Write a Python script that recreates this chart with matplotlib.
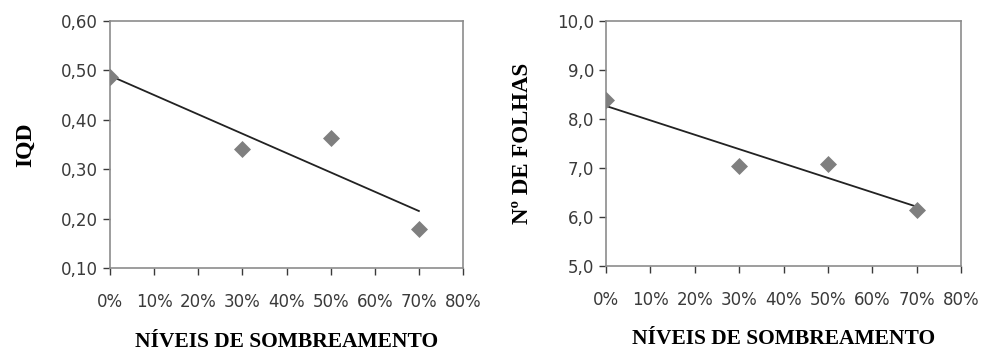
import numpy as np
import matplotlib
matplotlib.use("Agg")
import matplotlib.pyplot as plt
from matplotlib.ticker import FuncFormatter

# shading levels (%)
niveis = [0, 30, 50, 70]
iqd = [0.487, 0.341, 0.363, 0.179]
folhas = [8.38, 7.04, 7.09, 6.15]

x_ticks = [0, 10, 20, 30, 40, 50, 60, 70, 80]

fig = plt.figure(figsize=(9.81, 3.51), dpi=100)
ax1 = fig.add_axes([110 / 981, 1 - 268 / 351, 353 / 981, 247 / 351])
ax2 = fig.add_axes([606 / 981, 1 - 266 / 351, 355 / 981, 245 / 351])

label_font = dict(family="Liberation Serif", fontweight="bold")


def draw(ax, y, ylim, yticks, yfmt, ylabel, ylabel_x, ylabel_size):
    ax.scatter(niveis, y, marker="D", s=75, color="#7f7f7f", zorder=3, linewidths=0)
    coef = np.polyfit(niveis, y, 1)
    xs = np.array([niveis[0], niveis[-1]])
    ax.plot(xs, np.polyval(coef, xs), color="#222222", lw=1.3, zorder=2)

    ax.set_xlim(0, 80)
    ax.set_ylim(*ylim)
    ax.set_xticks(x_ticks)
    ax.set_yticks(yticks)
    ax.xaxis.set_major_formatter(FuncFormatter(lambda v, p: f"{int(v)}%"))
    ax.yaxis.set_major_formatter(FuncFormatter(lambda v, p: yfmt.format(v).replace(".", ",")))
    ax.tick_params(axis="both", colors="#3a3a3a", labelsize=12, length=5, width=1)
    ax.tick_params(axis="x", pad=13)
    for side in ax.spines.values():
        side.set_color("#8c8c8c")
        side.set_linewidth(1.2)
    ax.set_xlabel("NÍVEIS DE SOMBREAMENTO", fontsize=15.5, **label_font)
    ax.xaxis.set_label_coords(0.5, -0.30)
    ax.xaxis.label.set_va("center")
    ax.set_ylabel(ylabel, fontsize=ylabel_size, **label_font)
    ax.yaxis.set_label_coords(ylabel_x, 0.5)


draw(ax1, iqd, (0.10, 0.60), np.arange(0.10, 0.61, 0.10), "{:.2f}", "IQD", -0.21, 17)
draw(ax2, folhas, (5.0, 10.0), np.arange(5, 10.1, 1), "{:.1f}", "Nº DE FOLHAS", -0.205, 16.5)

fig.savefig("out.png", dpi=100)
